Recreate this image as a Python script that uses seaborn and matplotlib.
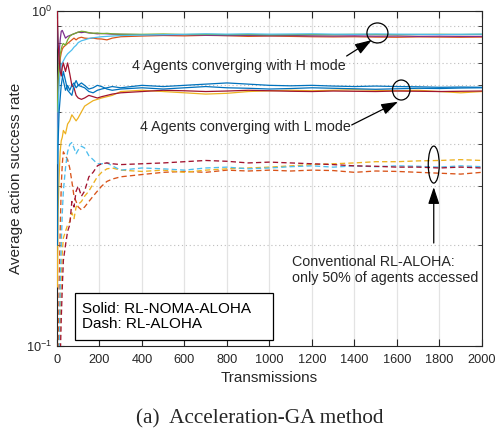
import pandas as pd
import matplotlib.pyplot as plt
import seaborn as sns
from matplotlib.patches import Ellipse, Rectangle
from matplotlib.transforms import ScaledTranslation
from matplotlib.ticker import NullFormatter, LogLocator, FixedLocator

# transmissions (x axis)
transmissions = [2, 5, 10, 15, 20, 25, 30, 40, 50, 60, 70, 80, 90, 100, 115, 130, 150, 170, 190, 210,
                 235, 260, 300, 400, 500, 600, 700, 800, 900, 1000, 1100, 1200, 1300, 1400, 1500, 1600,
                 1700, 1800, 1900, 2000]

# RL-NOMA-ALOHA (solid), agents converging with H mode
h_orange = [0.40, 0.55, 0.66, 0.72, 0.75, 0.77, 0.78, 0.79, 0.80, 0.81, 0.82, 0.83, 0.82, 0.83, 0.835, 0.83,
            0.828, 0.83, 0.826, 0.825, 0.82, 0.83, 0.838, 0.842, 0.845, 0.843, 0.846, 0.844, 0.84, 0.842,
            0.84, 0.838, 0.837, 0.838, 0.836, 0.835, 0.837, 0.836, 0.835, 0.836]
h_purple = [0.45, 0.60, 0.75, 0.82, 0.87, 0.875, 0.86, 0.83, 0.84, 0.845, 0.85, 0.855, 0.86, 0.865, 0.862,
            0.865, 0.86, 0.858, 0.855, 0.857, 0.855, 0.853, 0.852, 0.85, 0.848, 0.85, 0.847, 0.845, 0.846,
            0.844, 0.845, 0.843, 0.842, 0.843, 0.841, 0.842, 0.84, 0.841, 0.84, 0.84]
h_green = [0.50, 0.62, 0.70, 0.74, 0.77, 0.79, 0.80, 0.79, 0.82, 0.84, 0.85, 0.855, 0.86, 0.865, 0.87, 0.868,
           0.862, 0.858, 0.86, 0.856, 0.858, 0.855, 0.853, 0.852, 0.854, 0.851, 0.852, 0.85, 0.851, 0.849,
           0.85, 0.851, 0.85, 0.852, 0.851, 0.85, 0.851, 0.852, 0.851, 0.852]
h_cyan = [0.35, 0.50, 0.60, 0.66, 0.69, 0.70, 0.71, 0.73, 0.745, 0.755, 0.765, 0.78, 0.79, 0.805, 0.815, 0.82,
          0.828, 0.832, 0.835, 0.838, 0.84, 0.842, 0.845, 0.848, 0.85, 0.852, 0.855, 0.853, 0.855, 0.853,
          0.854, 0.855, 0.853, 0.852, 0.854, 0.853, 0.852, 0.851, 0.852, 0.853]

# RL-NOMA-ALOHA (solid), agents converging with L mode
l_blue = [0.90, 0.78, 0.75, 0.70, 0.66, 0.64, 0.62, 0.58, 0.60, 0.58, 0.60, 0.61, 0.59, 0.60, 0.595, 0.59,
          0.575, 0.57, 0.58, 0.585, 0.59, 0.595, 0.59, 0.60, 0.595, 0.60, 0.605, 0.61, 0.605, 0.60, 0.598,
          0.60, 0.597, 0.595, 0.597, 0.595, 0.594, 0.592, 0.593, 0.592]
l_yellow = [0.15, 0.25, 0.32, 0.38, 0.41, 0.42, 0.44, 0.43, 0.46, 0.47, 0.49, 0.48, 0.47, 0.48, 0.50, 0.52,
            0.53, 0.54, 0.545, 0.55, 0.555, 0.56, 0.575, 0.58, 0.575, 0.57, 0.565, 0.568, 0.575, 0.578, 0.58,
            0.578, 0.58, 0.582, 0.58, 0.578, 0.58, 0.575, 0.57, 0.575]
l_darkred = [1.0, 0.80, 0.72, 0.66, 0.64, 0.68, 0.70, 0.66, 0.70, 0.65, 0.60, 0.59, 0.56, 0.55, 0.545, 0.55,
             0.56, 0.555, 0.55, 0.555, 0.56, 0.565, 0.57, 0.575, 0.58, 0.578, 0.575, 0.577, 0.58, 0.578,
             0.576, 0.575, 0.577, 0.576, 0.575, 0.577, 0.576, 0.575, 0.576, 0.577]
l_blue2 = [0.20, 0.40, 0.50, 0.55, 0.60, 0.63, 0.66, 0.62, 0.58, 0.57, 0.56, 0.60, 0.62, 0.60, 0.61, 0.60,
           0.585, 0.59, 0.60, 0.595, 0.585, 0.58, 0.585, 0.59, 0.585, 0.59, 0.595, 0.59, 0.588, 0.585, 0.587,
           0.59, 0.588, 0.586, 0.584, 0.586, 0.588, 0.587, 0.589, 0.59]

# RL-ALOHA (dashed)
d_cyan = [0.02, 0.05, 0.09, 0.15, 0.20, 0.25, 0.29, 0.34, 0.38, 0.40, 0.405, 0.39, 0.375, 0.385, 0.395, 0.39,
          0.37, 0.36, 0.35, 0.35, 0.352, 0.345, 0.335, 0.34, 0.338, 0.335, 0.34, 0.342, 0.338, 0.34, 0.343,
          0.345, 0.342, 0.345, 0.343, 0.345, 0.344, 0.342, 0.345, 0.343]
d_orange = [0.03, 0.08, 0.15, 0.22, 0.30, 0.35, 0.38, 0.37, 0.36, 0.34, 0.31, 0.28, 0.27, 0.26, 0.255, 0.26,
            0.27, 0.28, 0.29, 0.30, 0.31, 0.315, 0.32, 0.325, 0.33, 0.332, 0.33, 0.335, 0.333, 0.335, 0.333,
            0.335, 0.334, 0.33, 0.333, 0.332, 0.33, 0.328, 0.326, 0.33]
d_darkred = [0.01, 0.03, 0.06, 0.09, 0.12, 0.15, 0.18, 0.20, 0.22, 0.23, 0.27, 0.26, 0.29, 0.30, 0.28, 0.29,
             0.32, 0.33, 0.345, 0.35, 0.352, 0.35, 0.348, 0.35, 0.352, 0.355, 0.358, 0.356, 0.352, 0.354,
             0.352, 0.35, 0.348, 0.345, 0.344, 0.342, 0.342, 0.34, 0.342, 0.34]
d_yellow = [0.02, 0.04, 0.08, 0.12, 0.16, 0.19, 0.21, 0.22, 0.23, 0.235, 0.25, 0.24, 0.26, 0.265, 0.27, 0.28,
            0.29, 0.305, 0.32, 0.33, 0.338, 0.34, 0.335, 0.332, 0.335, 0.33, 0.335, 0.338, 0.34, 0.342,
            0.345, 0.348, 0.35, 0.352, 0.355, 0.355, 0.357, 0.358, 0.36, 0.358]

BLUE, ORANGE, YELLOW, PURPLE = '#0072BD', '#D95319', '#EDB120', '#7E2F8E'
GREEN, CYAN, DARKRED = '#77AC30', '#4DBEEE', '#A2142F'

solid = [(l_blue, BLUE), (h_orange, ORANGE), (l_yellow, YELLOW), (h_purple, PURPLE),
         (h_green, GREEN), (h_cyan, CYAN), (l_darkred, DARKRED), (l_blue2, BLUE)]
dashed = [(d_orange, ORANGE), (d_yellow, YELLOW), (d_cyan, CYAN), (d_darkred, DARKRED)]

sns.set_style("ticks")
plt.rcParams['font.family'] = ['Liberation Sans', 'DejaVu Sans']
plt.rcParams['mathtext.default'] = 'regular'

fig = plt.figure(figsize=(4.99, 4.32), dpi=100)
ax = fig.add_axes([0.1142, 0.199, 0.8517, 0.7755])

for vals, col in solid:
    df = pd.DataFrame({'t': transmissions, 'rate': vals})
    sns.lineplot(data=df, x='t', y='rate', color=col, lw=0.9, errorbar=None, ax=ax, zorder=3)
for vals, col in dashed:
    df = pd.DataFrame({'t': transmissions, 'rate': vals})
    sns.lineplot(data=df, x='t', y='rate', color=col, lw=0.95, errorbar=None, ax=ax, zorder=3,
                 linestyle=(0, (4, 2.4)))

ax.set_yscale('log')
ax.set_ylim(0.1, 1)
ax.set_xlim(0, 2000)
ax.xaxis.set_major_locator(FixedLocator(range(0, 2001, 200)))
ax.yaxis.set_major_locator(FixedLocator([0.1, 1]))
ax.yaxis.set_minor_locator(LogLocator(base=10, subs=range(2, 10)))
ax.yaxis.set_minor_formatter(NullFormatter())

ax.grid(axis='x', which='major', color='#e3e3e3', lw=0.9, ls='-')
ax.grid(axis='y', which='minor', color='#bdbdbd', lw=0.8, ls=(0, (1, 2.5)))
ax.set_axisbelow(True)

ax.tick_params(which='both', direction='in', top=True, right=True, colors='#262626', labelsize=9.2)
ax.tick_params(which='major', length=5, width=0.8)
ax.tick_params(which='minor', length=3, width=0.6)
ax.tick_params(axis='x', pad=6)
for s in ax.spines.values():
    s.set_color('#262626')
    s.set_linewidth(0.8)

ax.set_xlabel('Transmissions', fontsize=11, labelpad=3, color='#262626')
ax.set_ylabel('Average action success rate', fontsize=11, labelpad=2, color='#262626')

# annotations
txt_kw = dict(fontsize=10.3, color='#262626')
ax.text(856, 0.685, '4 Agents converging with H mode', ha='center', va='center', **txt_kw)
ax.text(889, 0.452, '4 Agents converging with L mode', ha='center', va='center', **txt_kw)
ax.text(1107, 0.169, 'Conventional RL-ALOHA:\nonly 50% of agents accessed', ha='left', va='center',
        linespacing=1.15, **txt_kw)

arrow_kw = dict(arrowstyle='-|>,head_length=0.6,head_width=0.2', color='k', lw=0.9,
                mutation_scale=17, shrinkA=0, shrinkB=0)
ax.annotate('', xy=(1481, 0.819), xytext=(1363, 0.734), arrowprops=arrow_kw)
ax.annotate('', xy=(1605, 0.536), xytext=(1387, 0.457), arrowprops=arrow_kw)
ax.annotate('', xy=(1773, 0.298), xytext=(1773, 0.203), arrowprops=arrow_kw)

for (cx, cy, w, h) in [(1508, 0.860, 0.21, 0.20), (1620, 0.581, 0.175, 0.20), (1773, 0.348, 0.11, 0.37)]:
    tr = fig.dpi_scale_trans + ScaledTranslation(cx, cy, ax.transData)
    ax.add_patch(Ellipse((0, 0), w, h, transform=tr, fill=False, ec='k', lw=0.9, zorder=5))

ax.add_patch(Rectangle((0.0424, 0.018), 0.4656, 0.14, transform=ax.transAxes, fc='white', ec='k',
                       lw=0.9, zorder=6))
ax.text(0.059, 0.088, 'Solid: RL-NOMA-ALOHA\nDash: RL-ALOHA', transform=ax.transAxes, ha='left',
        va='center', fontsize=11, linespacing=1.15, color='k', zorder=7)

fig.text(0.521, 0.03, '(a)  Acceleration-GA method', ha='center', va='center', fontsize=15.3,
         family=['Liberation Serif', 'DejaVu Serif'])

fig.savefig('out.png', dpi=100)
